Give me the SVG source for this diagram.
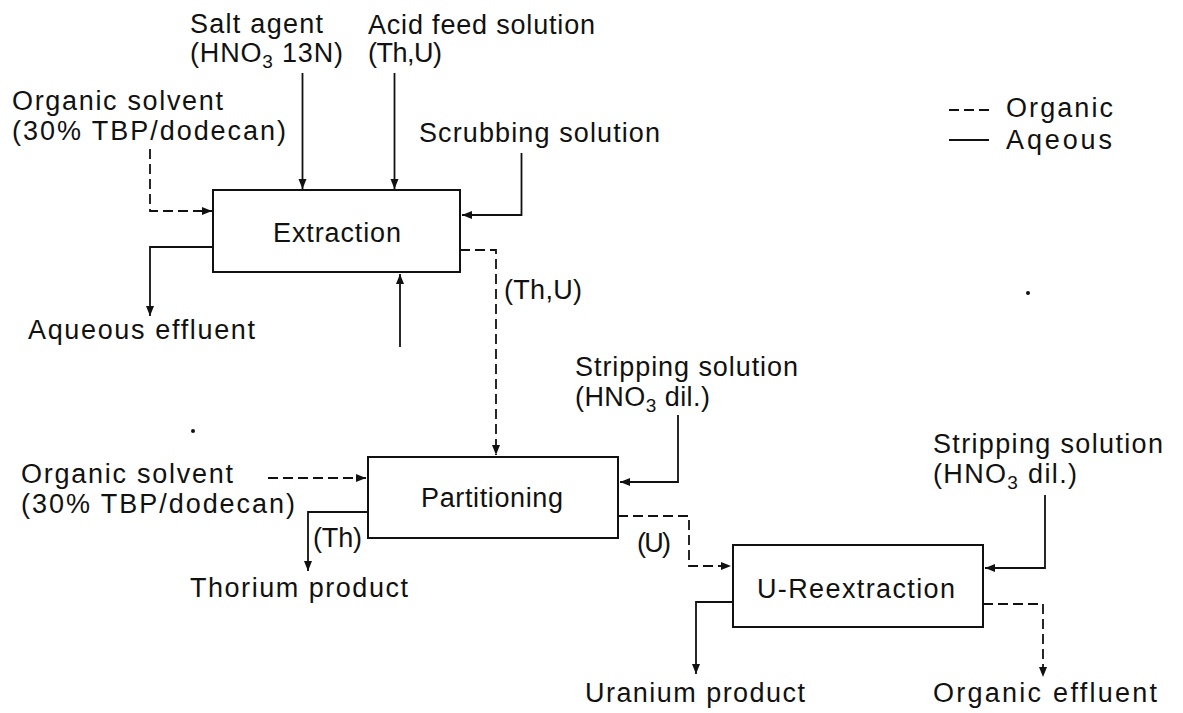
<svg xmlns="http://www.w3.org/2000/svg" width="1183" height="713" viewBox="0 0 1183 713">
<style>
text { font-family: "Liberation Sans", Arial, sans-serif; font-size: 27px; fill: #111; }
.sub { font-size: 19px; }
.box { fill: #fff; stroke: #111; stroke-width: 2; }
.aq { fill: none; stroke: #111; stroke-width: 1.8; }
.org { fill: none; stroke: #111; stroke-width: 1.8; stroke-dasharray: 10 5; }
</style>
<defs>
<marker id="ah" markerUnits="userSpaceOnUse" markerWidth="12" markerHeight="10" refX="10" refY="4" orient="auto">
<path d="M0,0 L10,4 L0,8 Z" fill="#111"/>
</marker>
</defs>
<rect width="1183" height="713" fill="#fff"/>

<g id="connectors">
<path class="aq" d="M302.5,73 V189" marker-end="url(#ah)"/>
<path class="aq" d="M394.5,73 V189" marker-end="url(#ah)"/>
<path class="aq" d="M521.5,153 V215 H462" marker-end="url(#ah)"/>
<path class="aq" d="M213,247 H150 V316" marker-end="url(#ah)"/>
<path class="aq" d="M400,347 V274" marker-end="url(#ah)"/>
<path class="aq" d="M678,415 V482 H620" marker-end="url(#ah)"/>
<path class="aq" d="M368,512 H308 V571" marker-end="url(#ah)"/>
<path class="aq" d="M733,602 H696 V674" marker-end="url(#ah)"/>
<path class="aq" d="M1045,495 V568 H985" marker-end="url(#ah)"/>
<path class="org" d="M150,149 V211 H212" marker-end="url(#ah)"/>
<path class="org" d="M460,250 H496 V455" marker-end="url(#ah)"/>
<path class="org" d="M268,478 H366" marker-end="url(#ah)"/>
<path class="org" d="M618,516 H689 V566 H731" marker-end="url(#ah)"/>
<path class="org" d="M983,604 H1043 V677" marker-end="url(#ah)"/>
</g>

<g id="extraction">
<rect class="box" x="213" y="190" width="247" height="82"/>
<text x="273" y="242" textLength="128" lengthAdjust="spacing">Extraction</text>
</g>
<g id="partitioning">
<rect class="box" x="368" y="457" width="250" height="81"/>
<text x="421" y="507" textLength="142" lengthAdjust="spacing">Partitioning</text>
</g>
<g id="u-reextraction">
<rect class="box" x="733" y="545" width="250" height="82"/>
<text x="757" y="598" textLength="198" lengthAdjust="spacing">U-Reextraction</text>
</g>

<g id="salt-agent">
<text x="190" y="33" textLength="133" lengthAdjust="spacing">Salt agent</text>
<text x="190" y="62" textLength="153" lengthAdjust="spacing">(HNO<tspan class="sub" dy="6">3</tspan><tspan dy="-6"> 13N)</tspan></text>
</g>
<g id="acid-feed">
<text x="368" y="34" textLength="227" lengthAdjust="spacing">Acid feed solution</text>
<text x="368" y="62" textLength="74" lengthAdjust="spacing">(Th,U)</text>
</g>
<g id="organic-solvent-1">
<text x="12" y="110" textLength="211" lengthAdjust="spacing">Organic solvent</text>
<text x="12" y="140" textLength="274" lengthAdjust="spacing">(30% TBP/dodecan)</text>
</g>
<g id="scrubbing">
<text x="419" y="142" textLength="241" lengthAdjust="spacing">Scrubbing solution</text>
</g>
<g id="aqueous-effluent">
<text x="28" y="339" textLength="227" lengthAdjust="spacing">Aqueous effluent</text>
</g>
<g id="label-thu">
<text x="504" y="299" textLength="78" lengthAdjust="spacing">(Th,U)</text>
</g>
<g id="stripping-1">
<text x="575" y="376" textLength="223" lengthAdjust="spacing">Stripping solution</text>
<text x="575" y="406" textLength="135" lengthAdjust="spacing">(HNO<tspan class="sub" dy="6">3</tspan><tspan dy="-6"> dil.)</tspan></text>
</g>
<g id="organic-solvent-2">
<text x="21" y="483" textLength="212" lengthAdjust="spacing">Organic solvent</text>
<text x="21" y="513" textLength="274" lengthAdjust="spacing">(30% TBP/dodecan)</text>
</g>
<g id="label-th">
<text x="313" y="547" textLength="49" lengthAdjust="spacing">(Th)</text>
</g>
<g id="thorium-product">
<text x="190" y="597" textLength="218" lengthAdjust="spacing">Thorium product</text>
</g>
<g id="label-u">
<text x="637" y="552" textLength="34" lengthAdjust="spacing">(U)</text>
</g>
<g id="stripping-2">
<text x="933" y="453" textLength="230" lengthAdjust="spacing">Stripping solution</text>
<text x="933" y="483" textLength="144" lengthAdjust="spacing">(HNO<tspan class="sub" dy="6">3</tspan><tspan dy="-6"> dil.)</tspan></text>
</g>
<g id="uranium-product">
<text x="585" y="702" textLength="220" lengthAdjust="spacing">Uranium product</text>
</g>
<g id="organic-effluent">
<text x="933" y="702" textLength="224" lengthAdjust="spacing">Organic effluent</text>
</g>
<g id="legend">
<line x1="949" y1="110" x2="989" y2="110" class="org"/>
<text x="1006" y="117" textLength="107" lengthAdjust="spacing">Organic</text>
<line x1="949" y1="140" x2="989" y2="140" class="aq"/>
<text x="1006" y="149" textLength="106" lengthAdjust="spacing">Aqeous</text>
</g>
<circle cx="193" cy="431" r="2" fill="#111"/>
<circle cx="1028" cy="293" r="2" fill="#111"/>
</svg>
